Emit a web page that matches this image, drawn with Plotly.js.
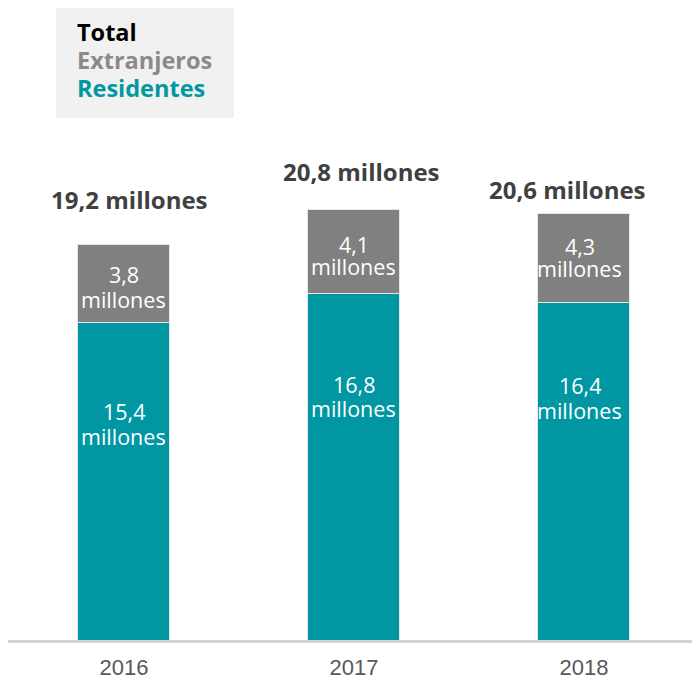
<!DOCTYPE html>
<html><head><meta charset="utf-8">
<script src="https://cdn.plot.ly/plotly-3.0.1.min.js"></script>
<style>html,body{margin:0;padding:0;background:#fff}#chart{width:692px;height:681px}</style>
</head><body><div id="chart"></div>
<script>
// Data
const years = ["2016", "2017", "2018"];
const residentes = [15.4, 16.8, 16.4];
const extranjeros = [3.8, 4.1, 4.3];
const totals = [19.2, 20.8, 20.6];
const residentesLabels = ["15,4", "16,8", "16,4"];
const extranjerosLabels = ["3,8", "4,1", "4,3"];
const totalLabels = ["19,2", "20,8", "20,6"];
const legendLabels = ["Total", "Extranjeros", "Residentes"];
const unit = "millones";

const TEAL = "#0097A3";
const GRAY = "#808080";
const FONT = "Open Sans, sans-serif";

// layout geometry (pixels)
const ML = 8, MR = 0, MT = 0, MB = 41, W = 692, H = 681;
const PW = W - ML - MR, PH = H - MT - MB;
const xp = px => (px - ML) / PW;
const yp = py => (H - MB - py) / PH;

const traces = [
  { type: "bar", x: years, y: residentes, name: "Residentes",
    marker: { color: TEAL, line: { color: "#e6e6e6", width: 1 } }, hoverinfo: "skip" },
  { type: "bar", x: years, y: extranjeros, name: "Extranjeros",
    marker: { color: GRAY, line: { color: "#e6e6e6", width: 1 } }, hoverinfo: "skip" }
];

const annotations = [];
const totalShiftX = [6, 8, -16];
const totalShiftY = [45, 38, 24];
const innerShiftX = [0, 0, -4];
const grayOff = [[30, 55], [35, 57], [33, 55]];
const tealOff = [[89, 114], [91, 115], [83, 108]];
const inFont = { family: FONT, size: 21.5, color: "#ffffff" };
years.forEach((yr, i) => {
  const top = residentes[i] + extranjeros[i];
  annotations.push({ x: i, y: top, xref: "x", yref: "y", showarrow: false,
    text: "<b>" + totalLabels[i] + " " + unit + "</b>", xshift: totalShiftX[i], yshift: totalShiftY[i],
    font: { family: FONT, size: 24, color: "#404040" }, yanchor: "middle" });
  [extranjerosLabels[i], unit].forEach((t, k) => {
    annotations.push({ x: i, y: top, xref: "x", yref: "y", showarrow: false, text: t,
      xshift: innerShiftX[i], yshift: -grayOff[i][k], font: inFont, yanchor: "middle" });
  });
  [residentesLabels[i], unit].forEach((t, k) => {
    annotations.push({ x: i, y: residentes[i], xref: "x", yref: "y", showarrow: false, text: t,
      xshift: innerShiftX[i], yshift: -tealOff[i][k], font: inFont, yanchor: "middle" });
  });
});

// legend block
const legendColors = ["#000000", "#8a8a8a", TEAL];
const legendY = [32, 60, 88];
legendLabels.forEach((t, i) => {
  annotations.push({ xref: "paper", yref: "paper", x: xp(75), y: yp(legendY[i]), xanchor: "left", yanchor: "middle",
    showarrow: false, align: "left", text: "<b>" + t + "</b>",
    font: { family: FONT, size: 23.5, color: legendColors[i] } });
});

const layout = {
  width: W, height: H,
  margin: { l: ML, r: MR, t: MT, b: MB, pad: 0 },
  paper_bgcolor: "#ffffff", plot_bgcolor: "#ffffff",
  barmode: "stack", bargap: 0.6, showlegend: false,
  xaxis: { type: "category", range: [-0.504, 2.47], showgrid: false, zeroline: false,
    showline: true, linecolor: "#d4d4d4", linewidth: 3, ticks: "", ticklabelstandoff: 6,
    tickfont: { family: "Liberation Sans, Arial, sans-serif", size: 22, color: "#595959" }, fixedrange: true },
  yaxis: { range: [0, PH / 20.6], visible: false, showgrid: false, zeroline: false, fixedrange: true },
  shapes: [{ type: "rect", xref: "paper", yref: "paper", x0: xp(56), x1: xp(234), y0: yp(118), y1: yp(8),
    fillcolor: "#f1f1f1", line: { width: 0 }, layer: "below" }],
  annotations: annotations
};
Plotly.newPlot("chart", traces, layout, { displayModeBar: false, staticPlot: true });
</script></body></html>
